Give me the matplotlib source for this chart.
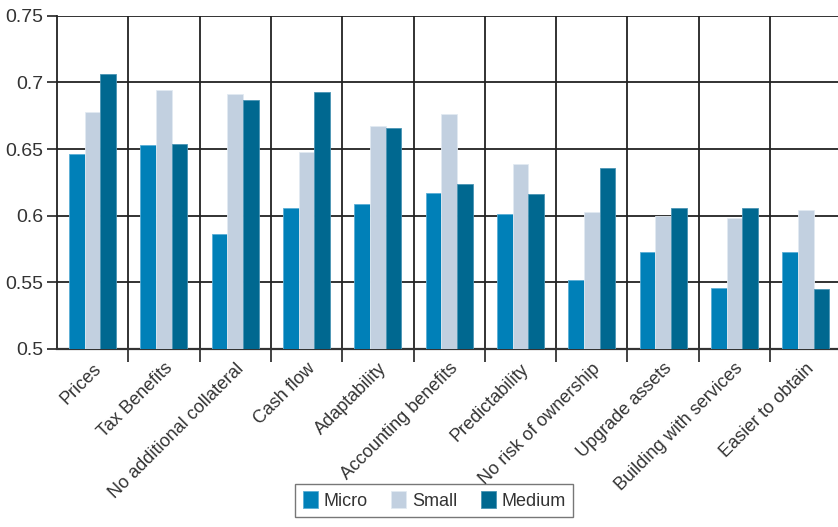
import matplotlib
matplotlib.use('Agg')
import matplotlib.pyplot as plt
import numpy as np

categories = ['Prices', 'Tax Benefits', 'No additional collateral', 'Cash flow',
              'Adaptability', 'Accounting benefits', 'Predictability',
              'No risk of ownership', 'Upgrade assets', 'Building with services',
              'Easier to obtain']
micro = [0.646, 0.653, 0.586, 0.606, 0.609, 0.617, 0.601, 0.552, 0.573, 0.546, 0.573]
small = [0.678, 0.694, 0.691, 0.648, 0.667, 0.676, 0.639, 0.603, 0.600, 0.598, 0.604]
medium = [0.706, 0.654, 0.687, 0.693, 0.666, 0.624, 0.616, 0.636, 0.606, 0.606, 0.545]
yticks = [0.5, 0.55, 0.6, 0.65, 0.7, 0.75]
ytick_labels = ['0.5', '0.55', '0.6', '0.65', '0.7', '0.75']

plt.rcParams['font.family'] = ['Liberation Sans', 'DejaVu Sans']

fig = plt.figure(figsize=(8.38, 5.27), dpi=100)
ax = fig.add_axes([0.068, 0.338, 0.936, 0.632])

x = np.arange(len(categories))
w = 0.22
ax.bar(x - w, micro, w, color='#0080b8', edgecolor='#5aaed6', linewidth=0.6, label='Micro', zorder=3)
ax.bar(x, small, w, color='#c2d0e0', edgecolor='#e2eaf2', linewidth=0.6, label='Small', zorder=3)
ax.bar(x + w, medium, w, color='#006890', edgecolor='#4a94b4', linewidth=0.6, label='Medium', zorder=3)

ax.set_xlim(-0.5, len(categories) - 0.5)
ax.set_ylim(0.5, 0.75)
ax.set_yticks(yticks)
ax.set_yticklabels(ytick_labels)

ax.set_xticks(x)
ax.set_xticklabels(categories, rotation=45, ha='right', rotation_mode='anchor')
ax.set_xticks(np.arange(len(categories)) + 0.5, minor=True)
ax.tick_params(axis='x', which='major', length=0, pad=8, labelsize=13, labelcolor='#333333')
ax.tick_params(axis='x', which='minor', length=9, width=1.2, color='#222222')
ax.tick_params(axis='y', length=7, width=1.2, color='#222222', labelsize=14, labelcolor='#333333', pad=3)

ax.grid(True, axis='y', color='#222222', linewidth=1.3, zorder=1)
ax.grid(True, axis='x', which='minor', color='#222222', linewidth=1.3, zorder=1)
ax.grid(False, axis='x', which='major')

for s in ['top', 'right']:
    ax.spines[s].set_visible(False)
ax.spines['left'].set_linewidth(1.3)
ax.spines['left'].set_color('#222222')
ax.spines['bottom'].set_linewidth(1.6)
ax.spines['bottom'].set_color('#333333')

leg = fig.legend(loc='lower center', bbox_to_anchor=(0.518, 0.002), ncol=3, frameon=True,
                 fancybox=False, edgecolor='#555555', fontsize=13, handlelength=0.85,
                 handleheight=1.0, handletextpad=0.3, columnspacing=1.3,
                 borderpad=0.4)
leg.get_frame().set_linewidth(1.0)
for t in leg.get_texts():
    t.set_color('#333333')

fig.savefig('out.png', dpi=100)
